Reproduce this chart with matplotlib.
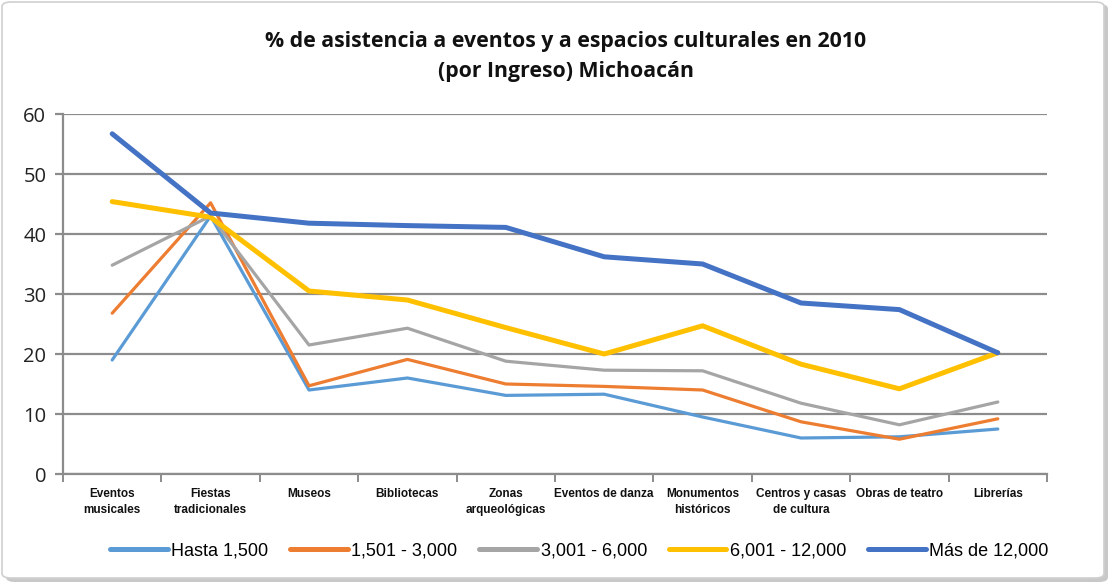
import matplotlib
matplotlib.use("Agg")
import matplotlib.pyplot as plt
from matplotlib import font_manager
from matplotlib.patches import FancyBboxPatch
import numpy as np

categories = ["Eventos\nmusicales", "Fiestas\ntradicionales", "Museos", "Bibliotecas",
              "Zonas\narqueológicas", "Eventos de danza", "Monumentos\nhistóricos",
              "Centros y casas\nde cultura", "Obras de teatro", "Librerías"]
series_names = ["Hasta 1,500", "1,501 - 3,000", "3,001 - 6,000", "6,001 - 12,000", "Más de 12,000"]
hasta_1500 = [19.0, 43.0, 14.0, 16.0, 13.1, 13.3, 9.5, 6.0, 6.2, 7.5]
de_1501_3000 = [26.8, 45.2, 14.7, 19.1, 15.0, 14.6, 14.0, 8.7, 5.8, 9.2]
de_3001_6000 = [34.8, 43.0, 21.5, 24.3, 18.8, 17.3, 17.2, 11.8, 8.2, 12.0]
de_6001_12000 = [45.4, 42.8, 30.5, 29.0, 24.4, 20.0, 24.7, 18.3, 14.2, 20.2]
mas_12000 = [56.7, 43.5, 41.8, 41.4, 41.1, 36.2, 35.0, 28.5, 27.4, 20.2]
yticks = [0, 10, 20, 30, 40, 50, 60]

colors = ["#5B9BD5", "#ED7D31", "#A5A5A5", "#FFC000", "#4472C4"]
widths = [2.3, 2.3, 2.3, 3.6, 3.6]
all_series = [hasta_1500, de_1501_3000, de_3001_6000, de_6001_12000, mas_12000]

avail = {f.name for f in font_manager.fontManager.ttflist}
narrow = "Liberation Sans Narrow" if "Liberation Sans Narrow" in avail else "DejaVu Sans Condensed"
if narrow not in avail:
    narrow = "Liberation Sans"
main_font = "Open Sans" if "Open Sans" in avail else "DejaVu Sans"
plt.rcParams["font.family"] = [main_font, "DejaVu Sans"]

W, H = 1114, 586
fig = plt.figure(figsize=(W / 100, H / 100), dpi=100)

# outer frame with shadow
shadow = FancyBboxPatch((6 / W, 4 / H), (W - 12) / W, (H - 8) / H,
                        boxstyle="round,pad=0,rounding_size=0.008",
                        transform=fig.transFigure, facecolor="#c8c8c8", edgecolor="none", zorder=-2)
frame = FancyBboxPatch((2 / W, 8 / H), (W - 12) / W, (H - 10) / H,
                       boxstyle="round,pad=0,rounding_size=0.008",
                       transform=fig.transFigure, facecolor="white", edgecolor="#d0d0d0",
                       linewidth=1.2, zorder=-1)
fig.patches.extend([shadow, frame])

ax = fig.add_axes([63 / W, (H - 474) / H, (1047 - 63) / W, (474 - 114) / H])
ax.set_facecolor("none")
x = np.arange(len(categories))
for name, vals, c, lw in zip(series_names, all_series, colors, widths):
    ax.plot(x, vals, color=c, linewidth=lw, label=name, solid_capstyle="round",
            solid_joinstyle="round", zorder=3)

ax.set_xlim(-0.5, len(categories) - 0.5)
ax.set_ylim(0, 60)
ax.set_yticks(yticks)
ax.set_yticklabels([str(t) for t in yticks], fontsize=14.5, color="#222222")
ax.yaxis.grid(True, color="#8c8c8c", linewidth=1.6, zorder=1)
ax.tick_params(axis="y", length=6, width=1.6, color="#8c8c8c", pad=6)

ax.set_xticks(x)
ax.set_xticklabels(categories, fontsize=8.5, fontweight="bold", family=narrow,
                   color="#111111", linespacing=1.5)
ax.set_xticks(np.arange(len(categories) + 1) - 0.5, minor=True)
ax.tick_params(axis="x", which="major", length=0, pad=10)
ax.tick_params(axis="x", which="minor", length=6, width=1.4, color="#8c8c8c")
for lab in ax.get_xticklabels():
    lab.set_verticalalignment("top")

for s in ["top", "right"]:
    ax.spines[s].set_visible(False)
for s in ["left", "bottom"]:
    ax.spines[s].set_color("#8c8c8c")
    ax.spines[s].set_linewidth(1.6)

fig.text(0.508, 1 - 42 / H, "% de asistencia a eventos y a espacios culturales en 2010",
         ha="center", va="center", fontsize=15.3, fontweight="bold", color="#111111")
fig.text(0.508, 1 - 72 / H, "(por Ingreso) Michoacán",
         ha="center", va="center", fontsize=15.3, fontweight="bold", color="#111111")

leg = fig.legend(loc="center", bbox_to_anchor=(0.52, 1 - 551 / H), ncol=5, frameon=False,
                 handlelength=3.2, handletextpad=0.2, columnspacing=1.2,
                 prop={"family": narrow, "size": 13})
for lh in leg.get_lines():
    lh.set_linewidth(3.6)

fig.savefig("out.png", dpi=100)
